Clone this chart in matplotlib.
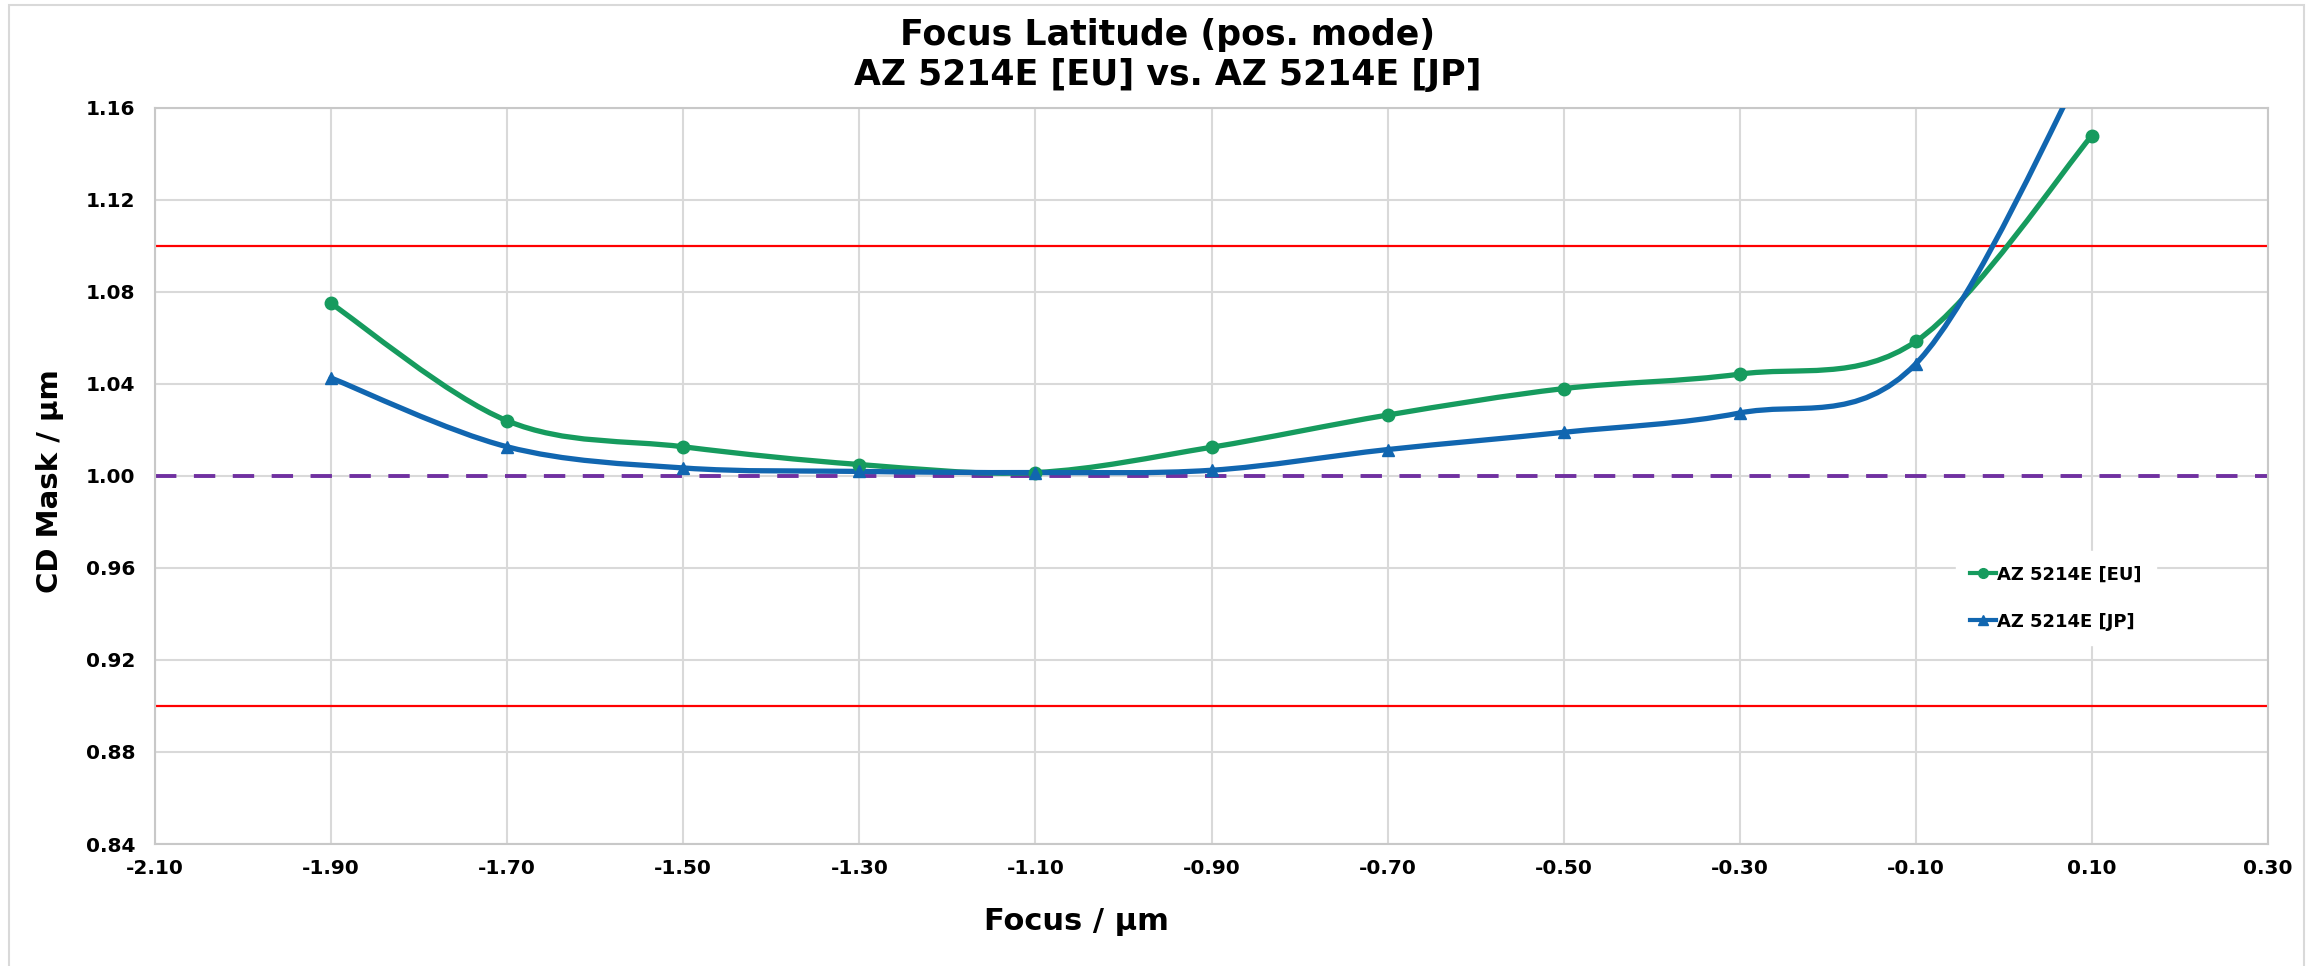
"""Focus latitude chart: CD on mask vs. focus for two resist lots."""

import matplotlib
matplotlib.use("Agg")
import matplotlib.pyplot as plt
import numpy as np
from matplotlib.patches import PathPatch, Rectangle
from matplotlib.path import Path
from matplotlib.lines import Line2D

focus = [-1.90, -1.70, -1.50, -1.30, -1.10, -0.90, -0.70, -0.50, -0.30, -0.10, 0.10]
cd_eu = [1.075, 1.024, 1.0127, 1.005, 1.0015, 1.0125, 1.0265, 1.038, 1.0443, 1.0585, 1.148]
cd_jp = [1.0426, 1.0127, 1.0035, 1.002, 1.0015, 1.0025, 1.0115, 1.019, 1.0274, 1.0488, 1.185]

x_ticks = [-2.10, -1.90, -1.70, -1.50, -1.30, -1.10, -0.90, -0.70, -0.50, -0.30, -0.10, 0.10, 0.30]
y_ticks = [0.84, 0.88, 0.92, 0.96, 1.00, 1.04, 1.08, 1.12, 1.16]
upper_limit = 1.10
lower_limit = 0.90
target = 1.00

GREEN = "#169B5E"
BLUE = "#1166B0"
PURPLE = "#7030A0"
RED = "#FF0000"
GRID = "#D9D9D9"


def smooth_path(xs, ys):
    """Excel-like smoothed line: cubic Bezier through every point."""
    pts = np.column_stack([xs, ys])
    n = len(pts)
    verts = [pts[0]]
    codes = [Path.MOVETO]
    for i in range(n - 1):
        p0 = pts[max(i - 1, 0)]
        p1 = pts[i]
        p2 = pts[i + 1]
        p3 = pts[min(i + 2, n - 1)]
        c1 = p1 + (p2 - p0) / 6.0
        c2 = p2 - (p3 - p1) / 6.0
        verts += [c1, c2, p2]
        codes += [Path.CURVE4] * 3
    return Path(verts, codes)


fig = plt.figure(figsize=(23.15, 9.66), dpi=100)
ax = fig.add_axes([155 / 2315, 1 - 844 / 966, 2113 / 2315, 736 / 966])

# chart area border
fig.patches.append(Rectangle((9 / 2315, -0.05), (2304 - 9) / 2315, 1 - 5 / 966 + 0.05,
                             transform=fig.transFigure, fill=False,
                             edgecolor="#D9D9D9", linewidth=1.5))

ax.set_xlim(x_ticks[0], x_ticks[-1])
ax.set_ylim(y_ticks[0], y_ticks[-1])
ax.set_xticks(x_ticks)
ax.set_yticks(y_ticks)
ax.set_xticklabels([f"{v:.2f}" for v in x_ticks])
ax.set_yticklabels([f"{v:.2f}" for v in y_ticks])
ax.grid(True, color=GRID, linewidth=1.5, zorder=0)
ax.set_axisbelow(True)
for sp in ax.spines.values():
    sp.set_color("#C8C8C8")
    sp.set_linewidth(1.5)
ax.tick_params(length=0, labelsize=14.5, pad=11)
for lab in ax.get_xticklabels() + ax.get_yticklabels():
    lab.set_fontweight("bold")
ax.tick_params(axis="y", pad=14)

ax.axhline(upper_limit, color=RED, linewidth=1.6, zorder=2)
ax.axhline(lower_limit, color=RED, linewidth=1.6, zorder=2)
ax.axhline(target, color=PURPLE, linewidth=2.8, dashes=(5.5, 4.5), zorder=2)

for ys, color, marker, ms in [(cd_eu, GREEN, "o", 9), (cd_jp, BLUE, "^", 9)]:
    ax.add_patch(PathPatch(smooth_path(focus, ys), facecolor="none", edgecolor=color,
                           linewidth=3.8, zorder=3, capstyle="round"))
    ax.plot(focus, ys, linestyle="none", marker=marker, markersize=ms,
            color=color, zorder=4)

handles = [
    Line2D([], [], color=GREEN, linewidth=3, marker="o", markersize=7),
    Line2D([], [], color=BLUE, linewidth=3, marker="^", markersize=7),
]
leg = ax.legend(handles, ["AZ 5214E [EU]", "AZ 5214E [JP]"], loc="upper left",
                bbox_to_anchor=(0.848, 0.41), frameon=True, fancybox=False,
                handlelength=1.4, handletextpad=0.1, labelspacing=1.6,
                borderpad=0.8, prop={"weight": "bold", "size": 13})
leg.get_frame().set_facecolor("white")
leg.get_frame().set_edgecolor("white")
leg.get_frame().set_alpha(1)

ax.set_xlabel("Focus / µm", fontsize=22, fontweight="bold")
ax.set_ylabel("CD Mask / µm", fontsize=21, fontweight="bold")
ax.xaxis.set_label_coords(0.436, -0.086)
ax.yaxis.set_label_coords(-0.043, 0.493)

fig.text(0.5045, 1 - 45 / 966, "Focus Latitude (pos. mode)", ha="center",
         va="baseline", fontsize=25, fontweight="bold")
fig.text(0.5045, 1 - 85 / 966, "AZ 5214E [EU] vs. AZ 5214E [JP]", ha="center",
         va="baseline", fontsize=25, fontweight="bold")

fig.savefig("out.png", dpi=100)
